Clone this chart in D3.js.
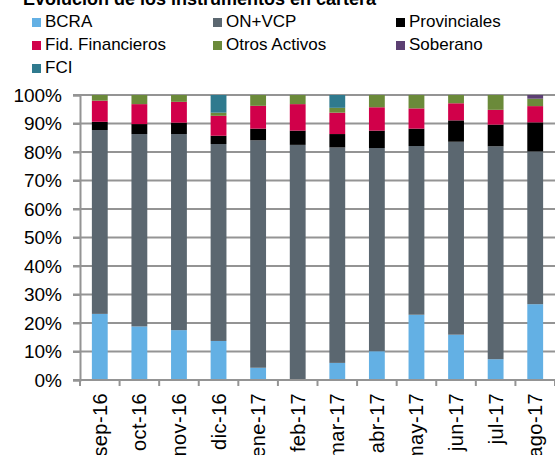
<!DOCTYPE html>
<html>
<head>
<meta charset="utf-8">
<script src="https://cdn.jsdelivr.net/npm/d3@7"></script>
<style>
  body { margin: 0; background: #fff; }
  svg { display: block; font-family: "Liberation Sans", Arial, sans-serif; }
</style>
</head>
<body>
<svg id="chart" width="555" height="455"></svg>
<script>
// months on the x axis
const months = ["sep-16", "oct-16", "nov-16", "dic-16", "ene-17", "feb-17",
  "mar-17", "abr-17", "may-17", "jun-17", "jul-17", "ago-17"];

// series, bottom to top (share of portfolio, %)
const seriesNames = ["BCRA", "ON+VCP", "Provinciales", "Fid. Financieros", "Otros Activos", "Soberano", "FCI"];
const bcra        = [23.2, 18.8, 17.5, 13.7, 4.3, 0.0, 6.0, 10.1, 22.9, 15.9, 7.3, 26.6];
const onVcp       = [64.5, 67.5, 68.8, 69.1, 79.8, 82.5, 75.6, 71.3, 59.2, 67.7, 74.7, 53.6];
const provinciales= [2.9, 3.5, 4.0, 2.9, 4.1, 5.0, 4.7, 6.1, 6.1, 7.5, 7.6, 10.2];
const fideicom    = [7.4, 7.0, 7.3, 7.0, 8.0, 9.3, 7.5, 8.2, 7.1, 6.0, 5.2, 5.7];
const otros       = [2.0, 3.2, 2.4, 1.1, 3.8, 3.2, 1.7, 4.3, 4.7, 2.9, 5.2, 2.6];
const soberano    = [0, 0, 0, 0, 0, 0, 0, 0, 0, 0, 0, 1.3];
const fci         = [0, 0, 0, 6.2, 0, 0, 4.5, 0, 0, 0, 0, 0];

const yTicks = [0, 10, 20, 30, 40, 50, 60, 70, 80, 90, 100];

const colors = ["#63b0e4", "#5b6770", "#000000", "#d1004a", "#6b8a3a", "#5c3f72", "#2f7a8e"];

const table = months.map((m, i) => ({
  month: m,
  "BCRA": bcra[i],
  "ON+VCP": onVcp[i],
  "Provinciales": provinciales[i],
  "Fid. Financieros": fideicom[i],
  "Otros Activos": otros[i],
  "Soberano": soberano[i],
  "FCI": fci[i]
}));

const svg = d3.select("#chart");
const margin = { left: 80, right: 0, top: 95, bottom: 75 };
const width = 555, height = 455;

const x = d3.scaleBand()
  .domain(months)
  .range([margin.left, width - margin.right])
  .paddingInner(0.6)
  .paddingOuter(0.3);

const y = d3.scaleLinear()
  .domain([0, 100])
  .range([height - margin.bottom, margin.top]);

const color = d3.scaleOrdinal().domain(seriesNames).range(colors);

// title (partly cut off at the top, as in the source)
svg.append("text")
  .attr("x", 23)
  .attr("y", 5)
  .attr("font-size", 18)
  .attr("font-weight", "bold")
  .attr("fill", "#000")
  .text("Evolución de los instrumentos en cartera");

// legend
const legendCols = [32, 213, 396];
const legend = svg.append("g")
  .selectAll("g")
  .data(seriesNames)
  .enter()
  .append("g")
  .attr("transform", (d, i) => `translate(${legendCols[i % 3]},${18 + Math.floor(i / 3) * 23})`);

legend.append("rect")
  .attr("width", 9)
  .attr("height", 9)
  .attr("fill", (d) => color(d));

legend.append("text")
  .attr("x", 13)
  .attr("y", 9)
  .attr("font-size", 17)
  .attr("fill", "#000")
  .text((d) => d);

// gridlines
svg.append("g")
  .selectAll("line")
  .data(yTicks)
  .enter()
  .append("line")
  .attr("x1", margin.left - 7)
  .attr("x2", width)
  .attr("y1", (d) => y(d))
  .attr("y2", (d) => y(d))
  .attr("stroke", "#949494")
  .attr("stroke-width", 2);

// stacked bars
const stacked = d3.stack().keys(seriesNames)(table);

svg.append("g")
  .selectAll("g")
  .data(stacked)
  .enter()
  .append("g")
  .attr("fill", (d) => color(d.key))
  .selectAll("rect")
  .data((d) => d)
  .enter()
  .append("rect")
  .attr("x", (d) => x(d.data.month))
  .attr("width", x.bandwidth())
  .attr("y", (d) => y(d[1]))
  .attr("height", (d) => y(d[0]) - y(d[1]));

// y axis
const yAxis = svg.append("g")
  .attr("transform", `translate(${margin.left},0)`)
  .call(d3.axisLeft(y).tickValues(yTicks).tickFormat((d) => d + "%").tickSize(7).tickPadding(11));
yAxis.select(".domain").attr("stroke", "#949494").attr("stroke-width", 2);
yAxis.selectAll(".tick line").attr("stroke", "#949494").attr("stroke-width", 2);
yAxis.selectAll("text").attr("font-size", 19).attr("fill", "#000").attr("font-family", "Liberation Sans, Arial, sans-serif");

// x axis baseline + boundary ticks
const step = x.step();
const boundaries = months.map((m) => x(m) - (step - x.bandwidth()) / 2).concat([width]);
svg.append("line")
  .attr("x1", margin.left)
  .attr("x2", width)
  .attr("y1", y(0))
  .attr("y2", y(0))
  .attr("stroke", "#949494")
  .attr("stroke-width", 2);
svg.append("g")
  .selectAll("line")
  .data(boundaries)
  .enter()
  .append("line")
  .attr("x1", (d) => d)
  .attr("x2", (d) => d)
  .attr("y1", y(0))
  .attr("y2", y(0) + 6)
  .attr("stroke", "#949494")
  .attr("stroke-width", 2);

// month labels, rotated
svg.append("g")
  .selectAll("text")
  .data(months)
  .enter()
  .append("text")
  .attr("transform", (d) => `translate(${x(d) + x.bandwidth() / 2},${y(0) + 13}) rotate(-90)`)
  .attr("text-anchor", "end")
  .attr("dy", "0.35em")
  .attr("font-size", 20)
  .attr("letter-spacing", 0.4)
  .attr("fill", "#000")
  .text((d) => d);
</script>
</body>
</html>
